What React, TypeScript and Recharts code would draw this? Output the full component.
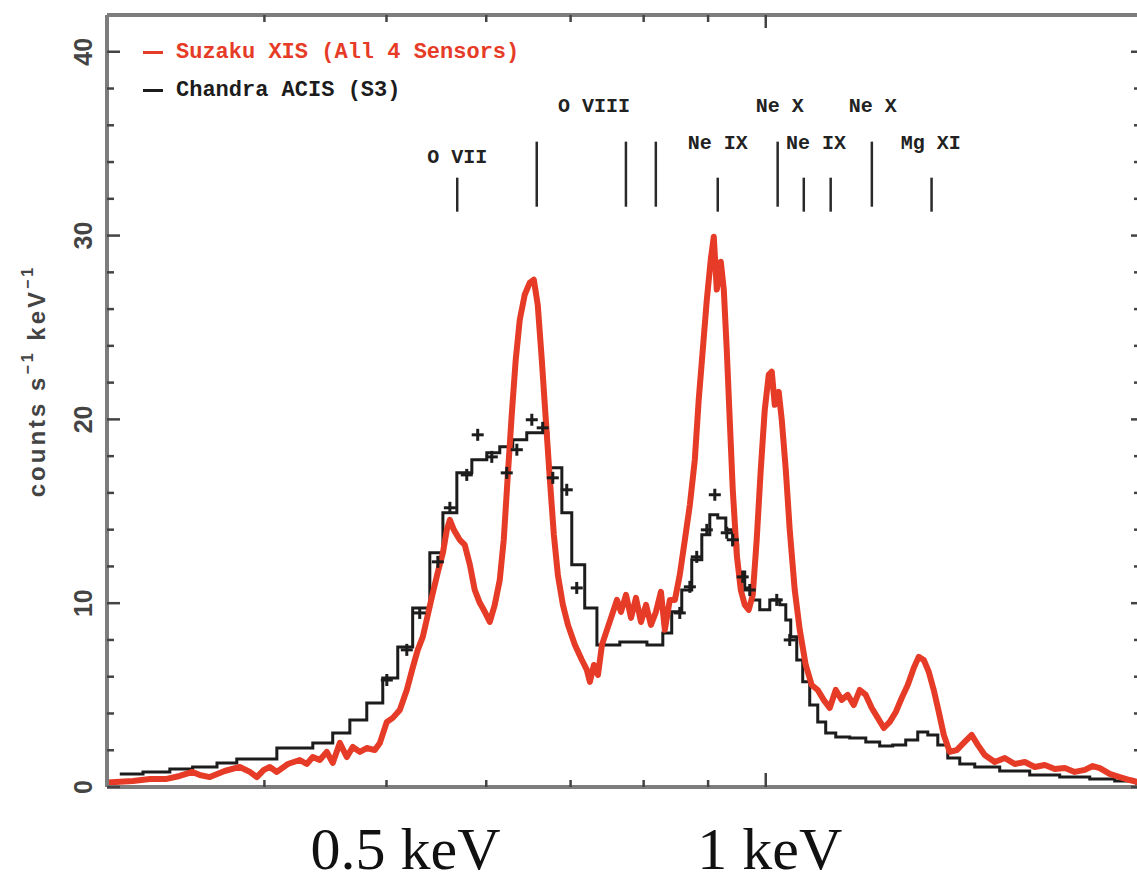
import React from 'react';
import { ComposedChart, Line, Scatter, XAxis, YAxis, ReferenceLine, Legend } from 'recharts';

// ---- Suzaku XIS spectrum (energy keV, counts s^-1 keV^-1)
const suzakuEnergy = [0.300,0.3146,0.3245,0.3346,0.3426,0.3508,0.3554,0.3620,0.3720,0.3824,0.3895,0.3945,0.3996,0.4040,0.4092,0.4175,0.4267,0.4322,0.4370,0.4426,0.4483,0.4532,0.4591,0.4650,0.4701,0.4762,0.4823,0.4894,0.4940,0.5003,0.5058,0.5123,0.5189,0.5245,0.5294,0.5343,0.5392,0.5442,0.5492,0.5543,0.5583,0.5614,0.5655,0.5716,0.5769,0.5823,0.5875,0.5929,0.5984,0.6039,0.6094,0.6150,0.6195,0.6240,0.6286,0.6332,0.6379,0.6437,0.6497,0.6545,0.6592,0.6641,0.6690,0.6740,0.6789,0.6839,0.6902,0.6966,0.7056,0.7146,0.7211,0.7251,0.7305,0.7359,0.7413,0.7481,0.7550,0.7619,0.7675,0.7746,0.7818,0.7888,0.7961,0.8035,0.8107,0.8182,0.8257,0.8316,0.8392,0.8470,0.8546,0.8626,0.8705,0.8784,0.8847,0.8913,0.8979,0.9044,0.9094,0.9144,0.9211,0.9262,0.9312,0.9363,0.9415,0.9484,0.9554,0.9623,0.9694,0.9765,0.9836,0.9909,0.9982,1.0055,1.0111,1.0166,1.0240,1.0297,1.0373,1.0448,1.0544,1.0641,1.0758,1.0876,1.0997,1.1117,1.1240,1.1365,1.1489,1.1617,1.1744,1.1875,1.2006,1.2138,1.2272,1.2409,1.2544,1.2683,1.2821,1.2963,1.3107,1.3226,1.3349,1.3472,1.3594,1.3720,1.3847,1.3996,1.4178,1.4385,1.4571,1.4733,1.4922,1.5196,1.5478,1.5763,1.6056,1.6351,1.6652,1.6961,1.7273,1.7590,1.7917,1.8179,1.8415,1.8750,1.9099,1.9450,2.0];
const suzakuCounts = [0.25,0.33,0.44,0.44,0.60,0.82,0.65,0.54,0.87,1.09,0.82,0.54,0.93,1.09,0.82,1.25,1.47,1.25,1.63,1.47,1.91,1.31,2.40,1.63,2.18,1.91,2.12,2.01,2.40,3.54,3.76,4.19,5.28,6.48,7.46,8.17,9.36,10.56,11.70,12.74,13.99,14.53,13.99,13.45,13.17,12.09,10.72,10.02,9.53,8.98,9.91,11.27,13.45,16.88,20.25,23.24,25.42,26.78,27.44,27.60,26.24,23.24,19.98,16.71,13.72,11.54,9.91,8.82,7.73,6.91,6.37,5.72,6.64,6.10,7.73,8.55,9.36,10.18,9.53,10.45,9.20,10.29,8.98,9.91,8.82,9.53,10.62,8.55,10.18,10.18,11.54,13.45,15.35,17.80,21.07,23.79,26.51,28.69,29.94,27.06,28.58,27.06,23.79,19.98,16.17,12.63,10.72,9.91,9.64,10.45,13.45,17.26,20.52,22.43,22.59,20.79,21.50,19.98,17.26,13.99,10.72,8.55,6.64,5.55,5.28,4.74,4.30,5.28,4.74,5.01,4.46,5.28,5.01,4.30,3.76,3.21,3.54,4.08,4.84,5.55,6.48,7.08,6.91,6.26,5.28,4.08,2.83,1.91,2.01,2.45,2.83,2.29,1.74,1.36,1.58,1.25,1.36,1.09,1.20,0.98,1.03,0.82,0.93,1.14,1.03,0.71,0.54,0.38,0.16];

// ---- Chandra ACIS model (step histogram, bin left edges)
const chandraEnergy = [0.3071,0.3204,0.3365,0.3508,0.3668,0.3803,0.4092,0.4370,0.4532,0.4676,0.4823,0.4966,0.5104,0.5245,0.5412,0.5543,0.5686,0.5844,0.6006,0.6150,0.6298,0.6461,0.6714,0.6889,0.7015,0.7183,0.7345,0.7659,0.8048,0.8285,0.8421,0.8577,0.8735,0.8897,0.9028,0.9160,0.9296,0.9415,0.9501,0.9623,0.9747,0.9891,1.0074,1.0259,1.0373,1.0467,1.0583,1.0699,1.0837,1.0997,1.1158,1.1365,1.1659,1.2006,1.2315,1.2612,1.2915,1.3202,1.3447,1.3695,1.3947,1.4256,1.4652,1.5336,1.6200,1.7113,1.8079,1.8923,1.9700,2.0];
const chandraCounts = [0.71,0.82,0.98,1.09,1.31,1.52,2.12,2.40,2.94,3.65,4.57,5.93,7.62,9.74,12.74,14.92,17.09,17.80,18.18,18.51,18.89,19.27,17.37,14.92,12.09,9.74,7.73,7.89,7.73,8.38,9.53,10.72,12.36,13.72,14.81,14.64,13.99,13.17,11.70,10.83,10.18,9.64,10.18,9.91,9.09,8.17,6.91,5.72,4.46,3.54,2.94,2.72,2.67,2.45,2.23,2.29,2.56,2.99,2.83,2.29,1.58,1.25,1.09,0.87,0.65,0.54,0.44,0.33,0.16,0.12];

// ---- Chandra data points (crosses)
const chandraPointEnergy = [0.5003,0.5189,0.5313,0.5492,0.5614,0.5790,0.5907,0.6061,0.6229,0.6345,0.6521,0.6652,0.6776,0.6951,0.7079,0.8546,0.8705,0.8815,0.8979,0.9111,0.9312,0.9415,0.9588,0.9712,1.0203,1.0448];
const chandraPointCounts = [5.82,7.46,9.47,12.25,15.19,16.98,19.16,17.96,17.09,18.35,19.98,19.54,16.82,16.17,10.83,9.47,10.89,12.52,13.99,15.90,13.83,13.45,11.43,10.72,10.18,8.00];

// ---- emission line markers
const markerEnergy = [0.569,0.658,0.7745,0.818,0.916,1.022,1.072,1.126,1.214,1.354];
const markerTop = [33.15,35.11,35.11,35.11,33.15,35.11,33.15,33.15,35.11,33.15];
const markerBottom = [31.30,31.57,31.57,31.57,31.30,31.57,31.30,31.30,31.57,31.30];

const lineLabelNames = ['O VII','O VIII','Ne IX','Ne X','Ne IX','Ne X','Mg XI'];
const lineLabelEnergy = [0.569,0.7305,0.916,1.026,1.096,1.216,1.352];
const lineLabelCounts = [34.24,37.02,35.0,37.02,35.0,37.02,35.0];

// ---- legend order and axes
const legendOrder = ['Suzaku XIS (All 4 Sensors)', 'Chandra ACIS (S3)'];
const yTicks = [0,2,4,6,8,10,12,14,16,18,20,22,24,26,28,30,32,34,36,38,40];
const yLabelTicks = [0,10,20,30,40];
const xTicks = [0.4,0.5,0.6,0.7,0.8,0.9,1,2];
const xMajorTicks = [1,2];
const xLabelTicks = [0.5,1];
const xLabelTexts = ['0.5 keV','1 keV'];

const suzakuData = suzakuEnergy.map((x, i) => ({ x, y: suzakuCounts[i] }));
const chandraData = chandraEnergy.map((x, i) => ({ x, y: chandraCounts[i] }));
const pointData = chandraPointEnergy.map((x, i) => ({ x, y: chandraPointCounts[i] }));
const labelData = lineLabelNames.map((name, i) => ({ x: lineLabelEnergy[i], y: lineLabelCounts[i], name }));

const RED = '#e63b26';
const BLACK = '#1c1c1c';
const AXIS = '#7d7d7d';
const TICK = '#444';

const LeftTick = (props: any) => {
  const { x, y, payload } = props;
  const v = payload.value;
  const major = yLabelTicks.includes(v);
  return (
    <g>
      <line x1={x} x2={x + (major ? 13 : 7)} y1={y} y2={y} stroke={TICK} strokeWidth={2.5} />
      {major && (
        <text x={x - 24} y={y} transform={`rotate(-90, ${x - 24}, ${y})`} textAnchor="middle" dominantBaseline="central"
          fontFamily="Liberation Sans, Arial, sans-serif" fontSize={25} fontWeight="bold" fill="#444">{v}</text>
      )}
    </g>
  );
};

const RightTick = (props: any) => {
  const { x, y, payload } = props;
  const major = yLabelTicks.includes(payload.value);
  return <line x1={x} x2={x - (major ? 14 : 11)} y1={y} y2={y} stroke={TICK} strokeWidth={2.5} />;
};

const TopTick = (props: any) => {
  const { x, y, payload } = props;
  const major = xMajorTicks.includes(payload.value);
  return <line x1={x} x2={x} y1={y} y2={y + (major ? 13 : 7)} stroke={TICK} strokeWidth={2.5} />;
};

const BottomTick = (props: any) => {
  const { x, y, payload } = props;
  const v = payload.value;
  const major = xMajorTicks.includes(v);
  const li = xLabelTicks.indexOf(v);
  const dx = v === 1 ? 4 : 19;
  return (
    <g>
      <line x1={x} x2={x} y1={y} y2={y - (major ? 14 : 7)} stroke={TICK} strokeWidth={2.5} />
      {li >= 0 && (
        <text x={x + dx} y={y + 82} textAnchor="middle" fontFamily="Liberation Serif, Times New Roman, serif"
          fontSize={60} fill="#111">{xLabelTexts[li]}</text>
      )}
    </g>
  );
};

const YAxisTitle = (props: any) => {
  const vb = props.viewBox || { x: 0, y: 15, width: 107, height: 772 };
  const cx = vb.x + 36;
  const cy = vb.y + vb.height / 2 - 20;
  return (
    <text x={cx} y={cy} transform={`rotate(-90, ${cx}, ${cy})`} textAnchor="middle" dominantBaseline="central"
      fontFamily="Liberation Sans, Arial, sans-serif" fontSize={24} fontWeight="bold" letterSpacing={3} fill="#444">
      counts s<tspan dy={-9} fontSize={16}>−1</tspan><tspan dy={9}> keV</tspan><tspan dy={-9} fontSize={16}>−1</tspan>
    </text>
  );
};

const Cross = (props: any) => {
  const { cx, cy } = props;
  if (cx == null || cy == null) return null;
  return (
    <g>
      <line x1={cx - 6} x2={cx + 6} y1={cy} y2={cy} stroke={BLACK} strokeWidth={3} />
      <line x1={cx} x2={cx} y1={cy - 6} y2={cy + 6} stroke={BLACK} strokeWidth={3} />
    </g>
  );
};

const LineLabel = (props: any) => {
  const { cx, cy, payload } = props;
  if (cx == null || cy == null) return null;
  return (
    <text x={cx} y={cy} textAnchor="middle" dominantBaseline="central" fontFamily="Liberation Mono, Courier New, monospace"
      fontWeight="bold" fontSize={20} fill="#222">{payload.name}</text>
  );
};

const renderLegend = (props: any) => {
  const items = (props.payload || [])
    .filter((p: any) => p.type !== 'none')
    .sort((a: any, b: any) => legendOrder.indexOf(a.value) - legendOrder.indexOf(b.value));
  return (
    <div style={{ fontFamily: 'Liberation Mono, Courier New, monospace', fontWeight: 'bold', fontSize: 22 }}>
      {items.map((it: any) => (
        <div key={it.value} style={{ display: 'flex', alignItems: 'center', height: 38, color: it.color, whiteSpace: 'nowrap' }}>
          <span style={{ display: 'inline-block', width: 20, height: 3, background: it.color, marginRight: 13 }} />
          {it.value}
        </div>
      ))}
    </div>
  );
};

export default function App() {
  return (
    <div style={{ position: 'fixed', left: 0, top: 0, width: 1137, height: 883, overflow: 'hidden', background: '#fff' }}>
      <ComposedChart width={1160} height={883} margin={{ top: 0, right: 0, bottom: 0, left: 0 }}>
        <XAxis xAxisId="b" dataKey="x" type="number" scale="log" domain={[0.3, 2]} allowDataOverflow orientation="bottom"
          height={96} ticks={xTicks} interval={0} tickSize={0} tickMargin={0} tick={<BottomTick />} tickLine={false}
          axisLine={{ stroke: AXIS, strokeWidth: 4 }} />
        <XAxis xAxisId="t" dataKey="x" type="number" scale="log" domain={[0.3, 2]} allowDataOverflow orientation="top"
          height={15} ticks={xTicks} interval={0} tickSize={0} tickMargin={0} tick={<TopTick />} tickLine={false}
          axisLine={{ stroke: AXIS, strokeWidth: 4 }} />
        <YAxis yAxisId="l" dataKey="y" type="number" domain={[0, 42]} allowDataOverflow orientation="left" width={107}
          ticks={yTicks} interval={0} tickSize={0} tickMargin={0} tick={<LeftTick />} tickLine={false}
          axisLine={{ stroke: AXIS, strokeWidth: 4 }} label={(p: any) => <YAxisTitle {...p} />} />
        <YAxis yAxisId="r" dataKey="y" type="number" domain={[0, 42]} allowDataOverflow orientation="right" width={15}
          ticks={yTicks} interval={0} tickSize={0} tickMargin={0} tick={<RightTick />} tickLine={false}
          axisLine={{ stroke: AXIS, strokeWidth: 4 }} />
        <Legend layout="vertical" align="center" verticalAlign="middle" content={renderLegend}
          wrapperStyle={{ left: 143, top: 33, width: 420, height: 80 }} />
        {markerEnergy.map((e, i) => (
          <ReferenceLine key={`m${i}`} xAxisId="b" yAxisId="l" segment={[{ x: e, y: markerBottom[i] }, { x: e, y: markerTop[i] }]}
            stroke="#2a2a2a" strokeWidth={2.5} ifOverflow="visible" />
        ))}
        <Line xAxisId="b" yAxisId="l" data={chandraData} dataKey="y" name="Chandra ACIS (S3)" type="stepAfter"
          stroke={BLACK} strokeWidth={3} dot={false} activeDot={false} isAnimationActive={false} />
        <Line xAxisId="b" yAxisId="l" data={suzakuData} dataKey="y" name="Suzaku XIS (All 4 Sensors)" type="linear"
          stroke={RED} strokeWidth={6} strokeLinejoin="round" dot={false} activeDot={false} isAnimationActive={false} />
        <Scatter xAxisId="b" yAxisId="l" data={pointData} dataKey="y" name="Chandra data" legendType="none"
          shape={<Cross />} isAnimationActive={false} />
        <Scatter xAxisId="b" yAxisId="l" data={labelData} dataKey="y" name="lines" legendType="none"
          shape={<LineLabel />} isAnimationActive={false} />
      </ComposedChart>
    </div>
  );
}
